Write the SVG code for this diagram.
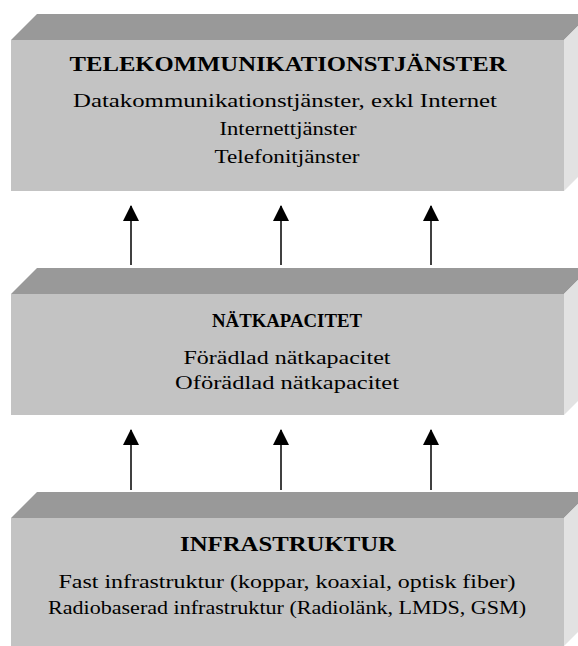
<svg xmlns="http://www.w3.org/2000/svg" width="578" height="646" viewBox="0 0 578 646">
<style>
.top{fill:#999999}
.front{fill:#c3c3c3}
.side{fill:#e2e2e2}
text{font-family:"Liberation Serif","DejaVu Serif",serif;fill:#000;text-anchor:middle}
.t{font-weight:bold;font-size:20px}
.b{font-size:18.5px}
.arr{stroke:#000;stroke-width:1.5;fill:none}
</style>
<defs>
<marker id="ah" viewBox="0 0 16 16" markerWidth="16" markerHeight="16" refX="15" refY="8" orient="auto" markerUnits="userSpaceOnUse">
<path d="M0,0 L16,8 L0,16 Z" fill="#000"/>
</marker>
</defs>
<rect width="578" height="646" fill="#fff"/>
<g id="telekom">
<polygon class="top" points="11,40 37,14 590,14 564,40"/>
<polygon class="side" points="564,40 590,14 590,165 564,191"/>
<rect class="front" x="11" y="40" width="553" height="151"/>
<text class="t" x="288" y="71" textLength="437" lengthAdjust="spacingAndGlyphs">TELEKOMMUNIKATIONSTJÄNSTER</text>
<text class="b" x="285" y="107" textLength="424" lengthAdjust="spacingAndGlyphs">Datakommunikationstjänster, exkl Internet</text>
<text class="b" x="288" y="135" textLength="137" lengthAdjust="spacingAndGlyphs">Internettjänster</text>
<text class="b" x="287" y="163" textLength="145" lengthAdjust="spacingAndGlyphs">Telefonitjänster</text>
</g>
<g id="natkapacitet">
<polygon class="top" points="11,294 37,268 590,268 564,294"/>
<polygon class="side" points="564,294 590,268 590,389 564,415"/>
<rect class="front" x="11" y="294" width="553" height="121"/>
<text class="t" x="287" y="327" textLength="150" lengthAdjust="spacingAndGlyphs" style="font-size:19px">NÄTKAPACITET</text>
<text class="b" x="287" y="364" textLength="207" lengthAdjust="spacingAndGlyphs">Förädlad nätkapacitet</text>
<text class="b" x="287" y="389" textLength="224" lengthAdjust="spacingAndGlyphs">Oförädlad nätkapacitet</text>
</g>
<g id="infrastruktur">
<polygon class="top" points="11,518 37,492 590,492 564,518"/>
<polygon class="side" points="564,518 590,492 590,620 564,646"/>
<rect class="front" x="11" y="518" width="553" height="128"/>
<text class="t" x="288" y="551" textLength="216" lengthAdjust="spacingAndGlyphs">INFRASTRUKTUR</text>
<text class="b" x="287" y="588" textLength="457" lengthAdjust="spacingAndGlyphs">Fast infrastruktur (koppar, koaxial, optisk fiber)</text>
<text class="b" x="287" y="614" textLength="478" lengthAdjust="spacingAndGlyphs">Radiobaserad infrastruktur (Radiolänk, LMDS, GSM)</text>
</g>
<g id="connectors">
<line class="arr" x1="131" y1="265" x2="131" y2="206" marker-end="url(#ah)"/>
<line class="arr" x1="281" y1="265" x2="281" y2="206" marker-end="url(#ah)"/>
<line class="arr" x1="431" y1="265" x2="431" y2="206" marker-end="url(#ah)"/>
<line class="arr" x1="131" y1="490" x2="131" y2="430" marker-end="url(#ah)"/>
<line class="arr" x1="281" y1="490" x2="281" y2="430" marker-end="url(#ah)"/>
<line class="arr" x1="431" y1="490" x2="431" y2="430" marker-end="url(#ah)"/>
</g>
</svg>
